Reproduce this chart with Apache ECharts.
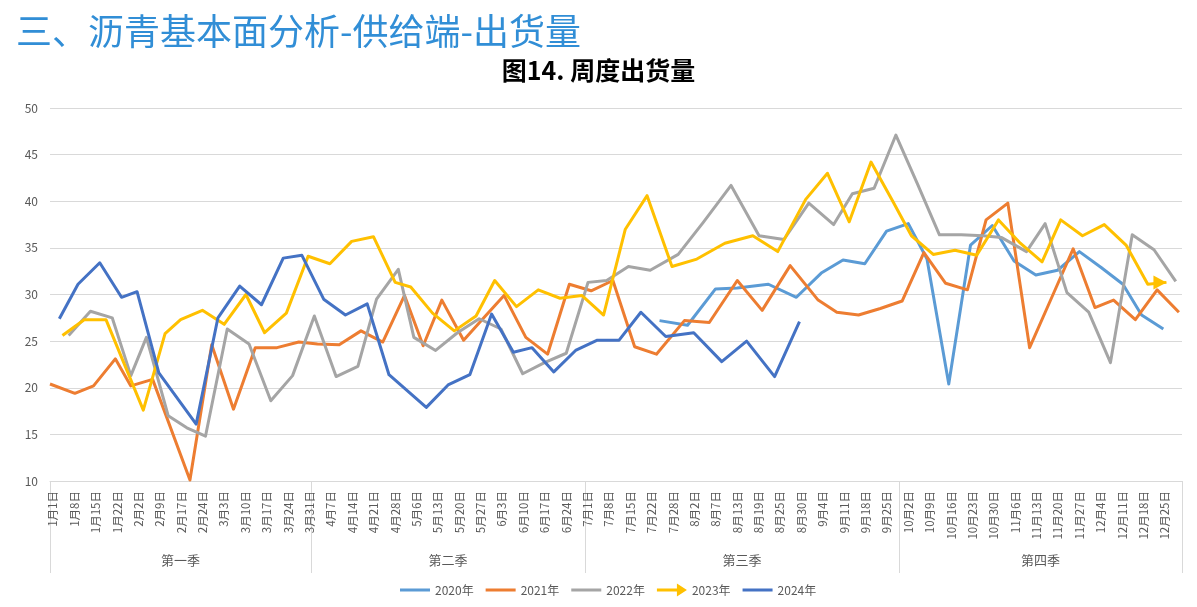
<!DOCTYPE html>
<html><head><meta charset="utf-8">
<script src="https://cdn.jsdelivr.net/npm/echarts@6/dist/echarts.min.js"></script>
<style>html,body{margin:0;padding:0;background:#fff}#c{width:1197px;height:607px}</style>
</head><body><div id="c"></div>
<script>
// ---- category (week) labels and quarter groups ----
const weekLabels = ['1月1日','1月8日','1月15日','1月22日','2月2日','2月9日','2月17日','2月24日','3月3日','3月10日','3月17日','3月24日','3月31日',
  '4月7日','4月14日','4月21日','4月28日','5月6日','5月13日','5月20日','5月27日','6月3日','6月10日','6月17日','6月24日',
  '7月1日','7月8日','7月15日','7月22日','7月28日','8月2日','8月7日','8月13日','8月19日','8月25日','8月30日','9月4日','9月11日','9月18日','9月25日',
  '10月2日','10月9日','10月16日','10月23日','10月30日','11月6日','11月13日','11月20日','11月27日','12月4日','12月11日','12月18日','12月25日'];
const quarterNames = ['第一季','第二季','第三季','第四季'];
const quarterBounds = [0, 84, 172, 273, 364];   // day-of-year boundaries of the quarter groups

// ---- series: day of year + values ----
const day2020 = [196,205,214,221,231,240,248,255,262,269,276,282,289,296,303,310,317,324,331,338,345,351,358];
const val2020 = [27.2,26.7,30.6,30.7,31.1,29.7,32.3,33.7,33.3,36.8,37.6,33.8,20.4,35.3,37.4,33.6,32.1,32.6,34.6,32.9,31.1,27.8,26.3];

const day2021 = [0,8,14,21,26,33,45,52,59,66,73,80,86,93,100,107,114,120,126,133,140,146,153,160,167,174,181,188,195,204,212,221,229,238,247,253,260,267,274,281,288,295,301,308,315,322,329,336,342,349,356,363];
const val2021 = [20.4,19.4,20.2,23.1,20.2,20.9,10.1,24.6,17.7,24.3,24.3,24.9,24.7,24.6,26.1,24.9,29.9,24.5,29.4,25.1,27.7,29.9,25.4,23.6,31.1,30.4,31.5,24.4,23.6,27.2,27.0,31.5,28.3,33.1,29.4,28.1,27.8,28.5,29.3,34.5,31.2,30.5,38.0,39.8,24.3,29.6,34.9,28.6,29.4,27.3,30.5,28.1];

const day2022 = [6,13,20,26,31,38,44,50,57,64,71,78,85,92,99,105,112,117,124,131,138,145,152,159,166,173,179,186,193,202,210,219,228,236,244,252,258,265,272,279,286,293,300,306,314,320,327,334,341,348,355,362];
const val2022 = [25.6,28.2,27.5,21.3,25.4,17.0,15.7,14.8,26.3,24.7,18.6,21.3,27.7,21.2,22.3,29.5,32.7,25.4,24.0,25.9,27.4,26.3,21.5,22.7,23.7,31.3,31.5,33.0,32.6,34.3,37.7,41.7,36.3,35.9,39.8,37.5,40.8,41.4,47.1,41.8,36.4,36.4,36.3,36.1,34.6,37.6,30.2,28.1,22.7,36.4,34.8,31.4];

const day2023 = [4,11,18,30,37,42,49,56,63,69,76,83,90,97,104,111,116,123,130,137,143,150,157,164,171,178,185,192,200,208,217,226,234,243,250,257,264,271,277,284,291,298,305,312,319,325,332,339,346,353,359];
const val2023 = [25.6,27.3,27.3,17.6,25.8,27.3,28.3,26.8,30.0,25.9,28.0,34.1,33.3,35.7,36.2,31.3,30.8,28.0,26.1,27.7,31.5,28.7,30.5,29.6,29.9,27.8,37.0,40.6,33.0,33.8,35.5,36.3,34.6,40.2,43.0,37.8,44.2,40.0,36.3,34.3,34.75,34.2,38.0,35.5,33.5,38.0,36.3,37.5,35.3,31.1,31.3];

const day2024 = [3,9,16,23,28,35,47,54,61,68,75,81,88,95,102,109,121,128,135,142,149,155,162,169,176,183,190,198,207,216,224,233,241];
const val2024 = [27.4,31.1,33.4,29.7,30.3,21.6,16.1,27.5,30.9,28.9,33.9,34.2,29.5,27.8,29.0,21.4,17.9,20.3,21.4,27.9,23.8,24.3,21.7,24.0,25.1,25.1,28.1,25.5,25.9,22.8,25.0,21.2,27.1];

const yTicks = [10, 50, 5]; // min, max, step
const seriesNames = ['2020年','2021年','2022年','2023年','2024年'];
const seriesColors = ['#5B9BD5','#ED7D31','#A5A5A5','#FFC000','#4472C4'];

const FONT = '"Noto Sans CJK SC", "Noto Sans", sans-serif';
function pairs(d, v) { return d.map((x, i) => [x, v[i]]); }
const qMids = quarterBounds.slice(0, -1).map((b, i) => (b + quarterBounds[i + 1]) / 2);

const lineIcon = 'path://M0,0L0.01,0L0,0.01Z M0,5.5L30,5.5L30,8.5L0,8.5Z M30,14L29.99,14L30,13.99Z';
const arrowIcon = 'path://M0,0L0.01,0L0,0.01Z M0,5.5L21,5.5L21,8.5L0,8.5Z M20,0.5L30,7L20,13.5Z M30,14L29.99,14L30,13.99Z';
const arrowHead = 'path://M0,0L10,5L0,10Z';

const allDays = [day2020, day2021, day2022, day2023, day2024];
const allVals = [val2020, val2021, val2022, val2023, val2024];

const series = seriesNames.map((name, i) => {
  const data = pairs(allDays[i], allVals[i]);
  if (i === 3) {
    const last = data.length - 1;
    data[last] = { value: data[last], symbol: arrowHead, symbolSize: [13, 14], symbolOffset: ['-50%', 0],
      itemStyle: { color: seriesColors[i] } };
  }
  return {
    type: 'line', name, data, xAxisIndex: 0, yAxisIndex: 0,
    symbol: 'none', showSymbol: true,
    lineStyle: { width: 3, color: seriesColors[i], join: 'round' },
    itemStyle: { color: seriesColors[i] },
    emphasis: { disabled: true },
    animation: false
  };
});

const chart = echarts.init(document.getElementById('c'), null, { renderer: 'canvas' });
chart.setOption({
  backgroundColor: '#ffffff',
  animation: false,
  textStyle: { fontFamily: FONT },
  title: [
    { text: '三、沥青基本面分析-供给端-出货量', left: 11, top: 8,
      textStyle: { fontSize: 36, fontWeight: 'normal', color: '#318ed6', fontFamily: FONT } },
    { text: '图14. 周度出货量', left: 'center', top: 53,
      textStyle: { fontSize: 25, fontWeight: 'bold', color: '#000000', fontFamily: FONT } }
  ],
  legend: {
    left: 395, top: 578, itemWidth: 30, itemHeight: 14, itemGap: 12,
    itemStyle: { borderWidth: 0 },
    textStyle: { color: '#595959', fontSize: 12, fontFamily: FONT },
    data: seriesNames.map((n, i) => ({ name: n, icon: i === 3 ? arrowIcon : lineIcon }))
  },
  grid: [
    { left: 50, right: 15, top: 108, bottom: 126, outerBoundsMode: 'none' },
    { left: 42.3, right: 21.3, top: 108, bottom: 126, outerBoundsMode: 'none' }
  ],
  xAxis: [
    { type: 'value', gridIndex: 0, min: quarterBounds[0], max: quarterBounds[quarterBounds.length - 1], position: 'bottom',
      axisLine: { show: true, lineStyle: { color: '#d9d9d9', width: 1 } },
      axisTick: { show: true, customValues: quarterBounds, length: 92, lineStyle: { color: '#d9d9d9', width: 1 } },
      axisLabel: { customValues: qMids, margin: 73, fontSize: 13, color: '#595959', fontFamily: FONT,
        formatter: (v) => {
          let best = 0;
          qMids.forEach((m, i) => { if (Math.abs(m - v) < Math.abs(qMids[best] - v)) best = i; });
          return quarterNames[best];
        } },
      splitLine: { show: false } },
    { type: 'category', gridIndex: 1, data: weekLabels, boundaryGap: true, position: 'bottom',
      axisLine: { show: false }, axisTick: { show: false },
      axisLabel: { interval: 0, rotate: 90, margin: 10, fontSize: 11.5, color: '#595959', fontFamily: FONT },
      splitLine: { show: false } }
  ],
  yAxis: [
    { type: 'value', gridIndex: 0, min: yTicks[0], max: yTicks[1], interval: yTicks[2],
      axisLine: { show: false }, axisTick: { show: false },
      axisLabel: { margin: 12, fontSize: 12, color: '#595959', fontFamily: FONT },
      splitLine: { lineStyle: { color: '#d9d9d9', width: 1 } } },
    { type: 'value', gridIndex: 1, show: false, min: yTicks[0], max: yTicks[1] }
  ],
  series
});
</script></body></html>
